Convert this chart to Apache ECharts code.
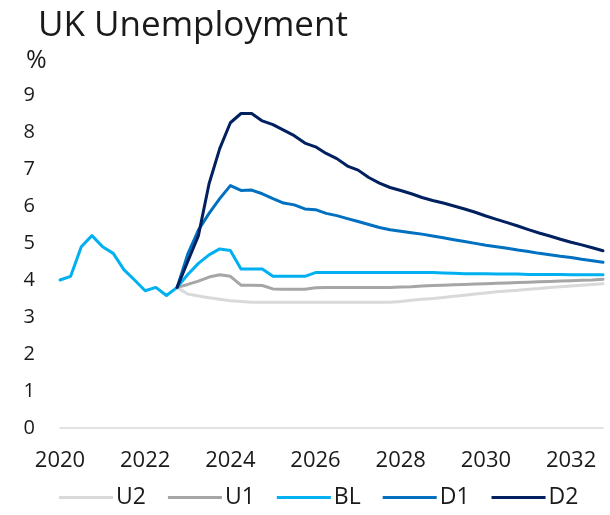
<!DOCTYPE html>
<html>
<head>
<meta charset="utf-8">
<script src="https://cdn.jsdelivr.net/npm/echarts@6/dist/echarts.min.js"></script>
<style>
html,body{margin:0;padding:0;background:#fff;}
#chart{width:610px;height:515px;}
</style>
</head>
<body>
<div id="chart"></div>
<script>
// Quarterly categories 2020Q1 .. 2032Q4
var quarters = [];
for (var y = 2020; y <= 2032; y++) { for (var q = 1; q <= 4; q++) { quarters.push(y + ' Q' + q); } }

var N = null;
// History (2020Q1-2022Q4) and baseline
var BL = [4.0, 4.1, 4.9, 5.2, 4.9, 4.72, 4.28, 4.0, 3.71, 3.8, 3.58, 3.8,
  4.15, 4.45, 4.68, 4.84, 4.8, 4.3, 4.3, 4.3, 4.1, 4.1, 4.1, 4.1,
  4.2, 4.2, 4.2, 4.2, 4.2, 4.2, 4.2, 4.2, 4.2, 4.2, 4.2, 4.2,
  4.19, 4.18, 4.17, 4.17, 4.17, 4.16, 4.16, 4.16, 4.15, 4.15, 4.15, 4.15, 4.14, 4.14, 4.14, 4.14];
var U1 = [N, N, N, N, N, N, N, N, N, N, N, 3.8,
  3.88, 3.97, 4.08, 4.14, 4.1, 3.86, 3.86, 3.85, 3.76, 3.75, 3.75, 3.75,
  3.79, 3.8, 3.8, 3.8, 3.8, 3.8, 3.8, 3.8, 3.81, 3.82, 3.84, 3.85,
  3.86, 3.87, 3.88, 3.89, 3.9, 3.91, 3.92, 3.93, 3.94, 3.95, 3.96, 3.97, 3.98, 3.99, 4.0, 4.02];
var U2 = [N, N, N, N, N, N, N, N, N, N, N, 3.8,
  3.62, 3.57, 3.52, 3.48, 3.44, 3.42, 3.4, 3.4, 3.4, 3.4, 3.4, 3.4,
  3.4, 3.4, 3.4, 3.4, 3.4, 3.4, 3.4, 3.4, 3.42, 3.45, 3.48, 3.5,
  3.53, 3.56, 3.59, 3.62, 3.65, 3.68, 3.7, 3.72, 3.75, 3.77, 3.8, 3.82, 3.84, 3.86, 3.88, 3.9];
var D1 = [N, N, N, N, N, N, N, N, N, N, N, 3.8,
  4.7, 5.35, 5.8, 6.2, 6.55, 6.42, 6.43, 6.33, 6.2, 6.08, 6.03, 5.92,
  5.9, 5.8, 5.74, 5.66, 5.58, 5.5, 5.42, 5.36, 5.32, 5.28, 5.24, 5.19,
  5.14, 5.09, 5.04, 4.99, 4.94, 4.9, 4.86, 4.81, 4.77, 4.72, 4.68, 4.64, 4.61, 4.56, 4.52, 4.48];
var D2 = [N, N, N, N, N, N, N, N, N, N, N, 3.8,
  4.5, 5.2, 6.6, 7.55, 8.25, 8.5, 8.5, 8.3, 8.2, 8.05, 7.9, 7.7,
  7.6, 7.42, 7.28, 7.08, 6.97, 6.77, 6.62, 6.5, 6.42, 6.33, 6.23, 6.15,
  6.08, 6.0, 5.92, 5.83, 5.73, 5.64, 5.55, 5.46, 5.36, 5.27, 5.19, 5.1, 5.02, 4.95, 4.87, 4.79];

var seriesNames = ['U2', 'U1', 'BL', 'D1', 'D2'];
var seriesData = [U2, U1, BL, D1, D2];
var seriesColors = ['#d9d9d9', '#a6a6a6', '#00b0f0', '#0070c0', '#002060'];
var yTicks = [0, 1, 2, 3, 4, 5, 6, 7, 8, 9];

var FONT = "'Open Sans', sans-serif";
var chart = echarts.init(document.getElementById('chart'), null, {renderer: 'canvas'});
chart.setOption({
  animation: false,
  backgroundColor: '#fff',
  title: {
    text: 'UK Unemployment', left: 33, top: 4,
    textStyle: {fontFamily: FONT, fontSize: 35, fontWeight: 'normal', color: '#1a1a1a'}
  },
  graphic: [{
    type: 'text', left: 26, top: 48,
    style: {text: '%', font: "25px 'Open Sans', sans-serif", fill: '#1a1a1a'}
  }],
  legend: {
    data: seriesNames, left: 54, bottom: 1, icon: 'rect',
    itemWidth: 54, itemHeight: 3, itemGap: 22,
    textStyle: {fontFamily: FONT, fontSize: 23, color: '#1a1a1a', padding: [0, 0, 0, -2]}
  },
  grid: {left: 60, right: 7, top: 95, bottom: 87},
  xAxis: {
    type: 'category', data: quarters, boundaryGap: false,
    axisLine: {lineStyle: {color: '#d9d9d9', width: 1.5}},
    axisTick: {show: false},
    axisLabel: {
      interval: function (i) { return i % 8 === 0; },
      formatter: function (v) { return v.slice(0, 4); },
      fontFamily: FONT, fontSize: 22, color: '#1a1a1a', margin: 22
    },
    splitLine: {show: false}
  },
  yAxis: {
    type: 'value', min: yTicks[0], max: yTicks[yTicks.length - 1], interval: 1,
    axisLine: {show: false}, axisTick: {show: false}, splitLine: {show: false},
    axisLabel: {fontFamily: FONT, fontSize: 20, color: '#1a1a1a', margin: 25}
  },
  series: seriesNames.map(function (n, k) {
    return {
      name: n, type: 'line', data: seriesData[k], showSymbol: false, symbol: 'none',
      connectNulls: false,
      lineStyle: {color: seriesColors[k], width: 3, cap: 'round', join: 'round'},
      itemStyle: {color: seriesColors[k]}
    };
  })
});
</script>
</body>
</html>
